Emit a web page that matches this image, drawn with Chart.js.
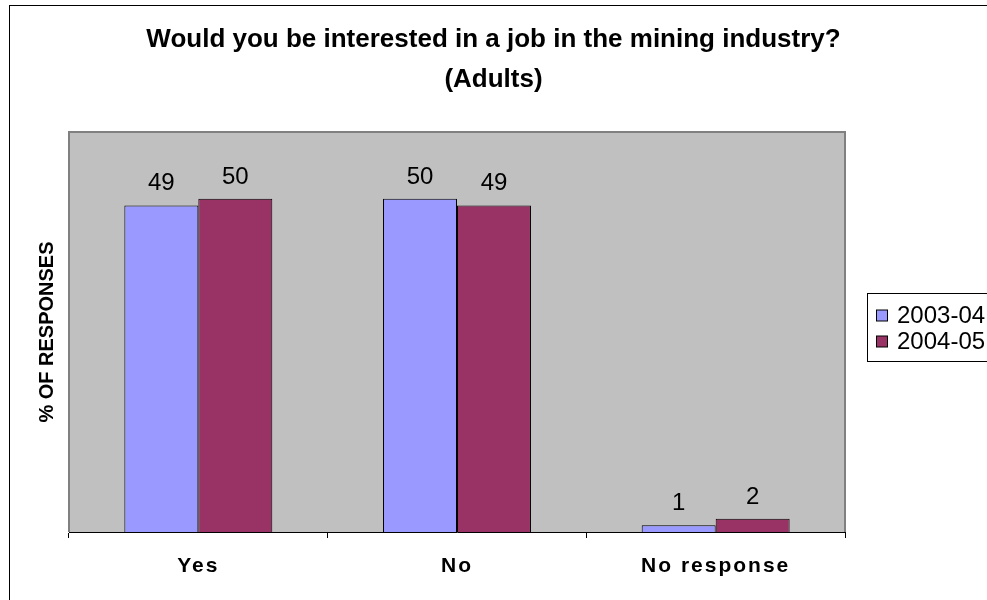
<!DOCTYPE html>
<html>
<head>
<meta charset="utf-8">
<title>Interest in mining jobs (Adults)</title>
<script src="https://cdn.jsdelivr.net/npm/chart.js@4/dist/chart.umd.min.js"></script>
<style>
  html, body { margin: 0; padding: 0; background: #ffffff; }
  #wrap { width: 987px; height: 600px; position: relative; }
</style>
</head>
<body>
<div id="wrap"><canvas id="chart" width="987" height="600"></canvas></div>
<script>
// Survey answers, percent of responses
const categories = ['Yes', 'No', 'No response'];
const seriesNames = ['2003-04', '2004-05'];
const values2003 = [49, 50, 1];
const values2004 = [50, 49, 2];
const titleLines = ['Would you be interested in a job in the mining industry?', '(Adults)'];
const yAxisTitle = '% OF RESPONSES';

const FONT = "'Liberation Sans', Arial, Helvetica, sans-serif";
const PLOT_LEFT = 69, PLOT_RIGHT = 845, PLOT_BOTTOM = 532;

// Grey plot background, frame and outer chart border
const framePlugin = {
  id: 'frame',
  beforeDraw(chart) {
    const { ctx, chartArea: a } = chart;
    ctx.save();
    ctx.fillStyle = '#ffffff';
    ctx.fillRect(0, 0, chart.width, chart.height);
    ctx.strokeStyle = '#000000';
    ctx.lineWidth = 1;
    ctx.strokeRect(9.5, 5.5, chart.width + 10, chart.height + 10);
    ctx.fillStyle = '#c0c0c0';
    ctx.fillRect(a.left, a.top, a.right - a.left, a.bottom - a.top);
    ctx.restore();
  },
  afterDatasetsDraw(chart) {
    const { ctx, chartArea: a } = chart;
    ctx.save();
    ctx.strokeStyle = '#808080';
    ctx.lineWidth = 2;
    ctx.beginPath();
    ctx.moveTo(a.left, a.bottom);
    ctx.lineTo(a.left, a.top);
    ctx.lineTo(a.right, a.top);
    ctx.lineTo(a.right, a.bottom);
    ctx.stroke();
    ctx.restore();
  }
};

// Slightly spaced-out category labels on the x axis
const spacedLabels = {
  id: 'spacedLabels',
  afterLayout(chart) {
    const x = chart.scales.x;
    if (!x || x._spacedWrapped) return;
    const orig = x.drawLabels;
    x.drawLabels = function (area) {
      const ctx = this.ctx;
      ctx.save();
      if ('letterSpacing' in ctx) ctx.letterSpacing = '2px';
      orig.call(this, area);
      ctx.restore();
    };
    x._spacedWrapped = true;
  }
};

// Value labels above each bar
const valueLabels = {
  id: 'valueLabels',
  afterDatasetsDraw(chart) {
    const { ctx } = chart;
    ctx.save();
    ctx.font = '24px ' + FONT;
    ctx.fillStyle = '#000000';
    ctx.textAlign = 'center';
    ctx.textBaseline = 'alphabetic';
    chart.data.datasets.forEach((ds, di) => {
      chart.getDatasetMeta(di).data.forEach((bar, i) => {
        ctx.fillText(String(ds.data[i]), bar.x, bar.y - 15);
      });
    });
    ctx.restore();
  }
};

// Boxed legend to the right of the plot
const boxedLegend = {
  id: 'boxedLegend',
  afterDraw(chart) {
    const { ctx } = chart;
    const x = 867.5, y = 293.5, w = 140, h = 68;
    ctx.save();
    ctx.fillStyle = '#ffffff';
    ctx.fillRect(x, y, w, h);
    ctx.strokeStyle = '#000000';
    ctx.lineWidth = 1;
    ctx.strokeRect(x, y, w, h);
    ctx.font = '24px ' + FONT;
    ctx.textBaseline = 'middle';
    ctx.textAlign = 'left';
    chart.data.datasets.forEach((ds, i) => {
      const cy = y + 22 + i * 26;
      ctx.fillStyle = ds.backgroundColor;
      ctx.fillRect(876.5, cy - 5.5, 11, 11);
      ctx.strokeRect(876.5, cy - 5.5, 11, 11);
      ctx.fillStyle = '#000000';
      ctx.fillText(ds.label, 897, cy + 1);
    });
    ctx.restore();
  }
};

new Chart(document.getElementById('chart'), {
  type: 'bar',
  data: {
    labels: categories,
    datasets: [
      { label: seriesNames[0], data: values2003, backgroundColor: '#9999ff', borderColor: '#000000', borderWidth: 1 },
      { label: seriesNames[1], data: values2004, backgroundColor: '#993366', borderColor: '#000000', borderWidth: 1 }
    ]
  },
  options: {
    responsive: false,
    animation: false,
    devicePixelRatio: 1,
    layout: { padding: { left: 0, top: 0, right: 0, bottom: 0 } },
    datasets: { bar: { categoryPercentage: 0.572, barPercentage: 1.0 } },
    plugins: {
      legend: { display: false },
      tooltip: { enabled: false },
      title: {
        display: true,
        text: titleLines,
        color: '#000000',
        font: { family: FONT, size: 26, weight: 'bold', lineHeight: 1.54 },
        padding: { top: 20, bottom: 32 }
      }
    },
    scales: {
      x: {
        grid: { display: true, drawOnChartArea: false, offset: true, color: '#000000', tickLength: 6, lineWidth: 1 },
        border: { display: true, color: '#000000', width: 1 },
        ticks: { color: '#000000', font: { family: FONT, size: 21, weight: 'bold' }, padding: 16, maxRotation: 0 },
        afterFit(s) { s.height = 600 - PLOT_BOTTOM; }
      },
      y: {
        min: 0, max: 60,
        grid: { display: false },
        border: { display: false },
        ticks: { display: false },
        title: {
          display: true, text: yAxisTitle, color: '#000000',
          font: { family: FONT, size: 20, weight: 'bold' },
          padding: { top: 35, bottom: 0 }
        },
        afterFit(s) { s.width = PLOT_LEFT; }
      },
      spacer: {
        type: 'linear', position: 'right', display: true,
        grid: { display: false }, border: { display: false }, ticks: { display: false },
        afterFit(s) { s.width = 987 - PLOT_RIGHT; }
      }
    }
  },
  plugins: [framePlugin, spacedLabels, valueLabels, boxedLegend]
});
</script>
</body>
</html>
